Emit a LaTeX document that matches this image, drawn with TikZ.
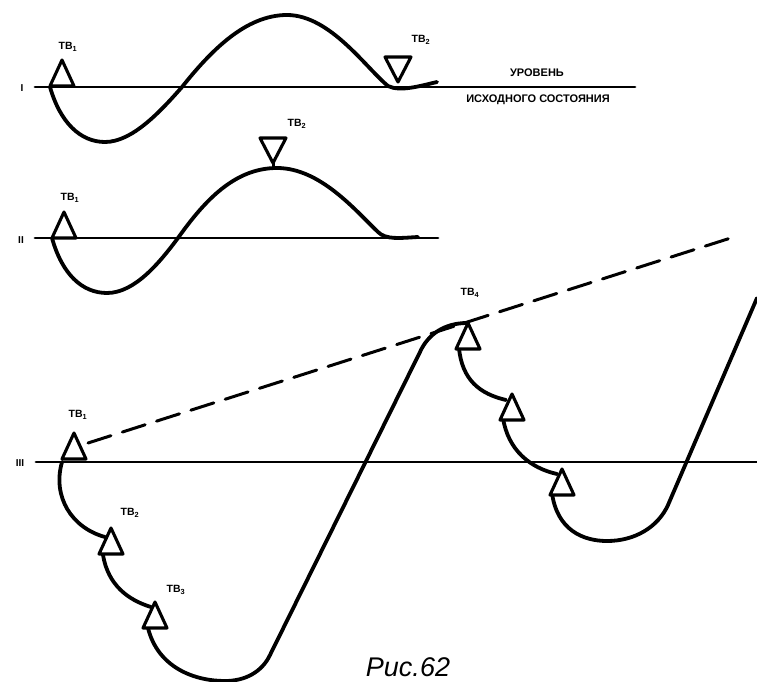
\documentclass[tikz,border=0pt]{standalone}
\usepackage{fontspec}
\setmainfont{Liberation Sans}
\begin{document}
\begin{tikzpicture}[x=1pt,y=-1pt,line cap=round,line join=round,
  curve/.style={line width=3.8pt},
  base/.style={line width=2.9pt},
  lbl/.style={font=\bfseries\fontsize{10.5}{11}\selectfont,inner sep=0pt},
  rowlbl/.style={font=\bfseries\fontsize{10}{11}\selectfont,inner sep=0pt},
  note/.style={font=\bfseries\fontsize{11}{12}\selectfont,inner sep=0pt},
  up/.pic={\draw[line width=3.1pt,fill=white] (0,0) -- (-12,26) -- (12,26) -- cycle;},
  down/.pic={\draw[line width=3.1pt,fill=white] (0,0) -- (-13,-25) -- (13,-25) -- cycle;}]
\useasboundingbox (0,0) rectangle (757,682);

% ---------- Row I ----------
\node[rowlbl] (rI) at (22,88) {I};
\draw[base] (35,87) -- (635,87);
\draw[curve] (50,87) .. controls (60,122) and (80,142) .. (105,142)
  .. controls (132,142) and (160,112) .. (182,87)
  .. controls (210,52) and (245,15) .. (287,15)
  .. controls (330,15) and (366,68) .. (388,86)
  .. controls (400,92) and (420,86) .. (437,82);
\pic at (62,60) {up};
\pic at (398,82) {down};
\node[lbl] (tI1) at (68,47) {ТВ\textsubscript{1}};
\node[lbl] (tI2) at (421,40) {ТВ\textsubscript{2}};
\node[note] (ur) at (537,73) {УРОВЕНЬ};
\node[note] (is) at (538,100) {ИСХОДНОГО СОСТОЯНИЯ};

% ---------- Row II ----------
\node[rowlbl] (rII) at (21,240) {II};
\draw[base] (35,238) -- (438,238);
\draw[curve] (52,238) .. controls (62,274) and (82,293) .. (107,293)
  .. controls (135,293) and (160,262) .. (178,238)
  .. controls (205,200) and (235,168) .. (277,168)
  .. controls (320,168) and (355,210) .. (378,232)
  .. controls (386,240) and (400,238) .. (418,237);
\draw[line width=3pt] (273,163) -- (273,168);
\pic at (64,212) {up};
\pic at (273,163) {down};
\node[lbl] (tII1) at (70,198) {ТВ\textsubscript{1}};
\node[lbl] (tII2) at (297,124) {ТВ\textsubscript{2}};

% ---------- Row III ----------
\node[rowlbl] (rIII) at (20,463) {III};
\draw[base] (36,462) -- (757,462);
\draw[line width=3pt,dash pattern=on 24pt off 12pt] (88,443) -- (737,236);
\draw[curve] (62,462) .. controls (52,497) and (72,528) .. (105,537);
\draw[curve] (103,555) .. controls (108,585) and (128,600) .. (151,607);
\draw[curve] (148,628) .. controls (158,668) and (195,681) .. (225,681)
  .. controls (245,681) and (262,672) .. (270,655)
  -- (420,352) .. controls (428,334) and (445,323) .. (467,323);
\draw[curve] (459,348) .. controls (462,380) and (480,394) .. (506,400);
\draw[curve] (503,418) .. controls (508,450) and (530,468) .. (557,474);
\draw[curve] (552,493) .. controls (557,530) and (583,541) .. (607,541)
  .. controls (635,541) and (658,527) .. (668,505) -- (757,298);
\pic at (74,433) {up};
\pic at (111,528) {up};
\pic at (155,602) {up};
\pic at (468,323) {up};
\pic at (512,394) {up};
\pic at (562,469) {up};
\node[lbl] (tIII1) at (78,415) {ТВ\textsubscript{1}};
\node[lbl] (tIII2) at (130,513) {ТВ\textsubscript{2}};
\node[lbl] (tIII3) at (176,590) {ТВ\textsubscript{3}};
\node[lbl] (tIII4) at (470,293) {ТВ\textsubscript{4}};

\node[font=\itshape\fontsize{27}{30}\selectfont,inner sep=0pt] (cap) at (408,667) {Рис.62};
\end{tikzpicture}
\end{document}
